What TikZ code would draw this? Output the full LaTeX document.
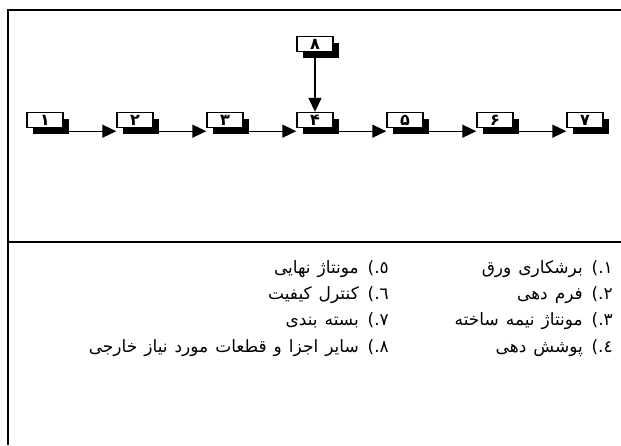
\documentclass[tikz,border=0pt]{standalone}
\usepackage{fontspec}
\setmainfont{DejaVu Sans}
\newfontfamily\arabicfont[Script=Arabic]{DejaVu Sans}
\TeXXeTstate=1
\usetikzlibrary{arrows.meta,shadows}
\newcommand\legendfont{\arabicfont\fontsize{17}{19}\selectfont\spaceskip 7pt\relax}

\tikzset{
  stage/.style={draw, line width=1.4pt, fill=white, minimum width=36pt,
    minimum height=15pt, inner sep=0pt,
    font=\arabicfont\bfseries\fontsize{16}{16}\selectfont,
    general shadow={fill=black, shadow xshift=6pt, shadow yshift=-6pt}},
  flow/.style={line width=1.4pt, -{Triangle[length=14pt,width=13pt]}},
  frame/.style={line width=2pt},
  item/.style={anchor=base east, inner sep=0pt, font=\legendfont}
}

\begin{document}
\begin{tikzpicture}[x=1pt,y=-1pt]
\useasboundingbox (0,0) rectangle (621,445);
% frame
\draw[frame] (621,10) -- (8,10) -- (8,445);
\draw[frame] (8,242) -- (621,242);

% stages
\foreach \i/\d in {1/۱,2/۲,3/۳,4/۴,5/۵,6/۶,7/۷}
  \node[stage] (s\i) at ({45+90*(\i-1)},120) {\d};
\node[stage] (s8) at (315,44) {۸};

\foreach \i [evaluate=\i as \j using int(\i+1)] in {1,...,6}
  \draw[flow] ([yshift=-3pt]s\i.south east) -- ([yshift=-3pt]s\j.south west);
\draw[flow] (s8) -- (s4);

% legend
\node[item] (l1) at (613,273) {\beginR ١.) برشکاری ورق\endR};
\node[item] (l2) at (613,299) {\beginR ٢.) فرم دهی\endR};
\node[item] (l3) at (613,325) {\beginR ٣.) مونتاژ نیمه ساخته\endR};
\node[item] (l4) at (613,352) {\beginR ٤.) پوشش دهی\endR};
\node[item] (l5) at (389,273) {\beginR ٥.) مونتاژ نهایی\endR};
\node[item] (l6) at (389,299) {\beginR ٦.) کنترل کیفیت\endR};
\node[item] (l7) at (389,325) {\beginR ٧.) بسته بندی\endR};
\node[item] (l8) at (389,352) {\beginR ٨.) سایر اجزا و قطعات مورد نیاز خارجی\endR};
\end{tikzpicture}
\end{document}
